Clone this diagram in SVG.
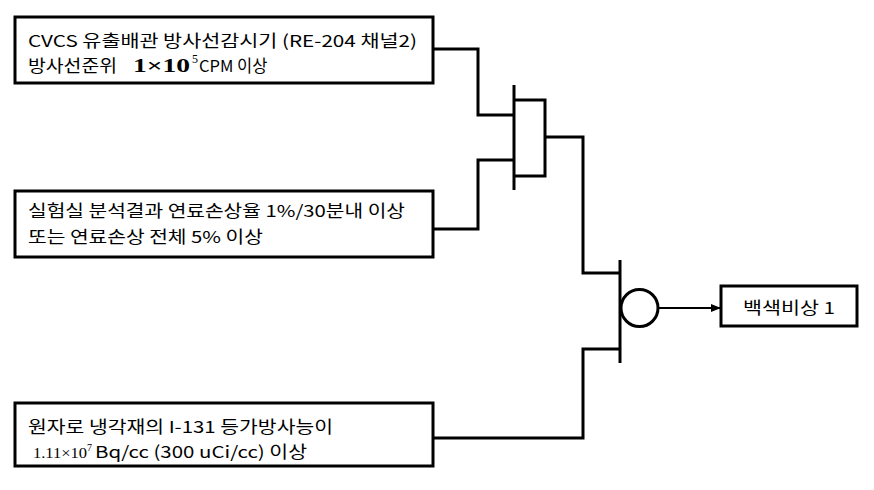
<svg xmlns="http://www.w3.org/2000/svg" width="874" height="490" viewBox="0 0 874 490">
<style>
.box{fill:#fff;stroke:#000;stroke-width:3}
.w{fill:none;stroke:#000;stroke-width:3}
.t{font-family:"Noto Sans CJK KR","Noto Sans",sans-serif;font-size:16.5px;fill:#000}
.s{font-family:"Liberation Serif",serif;fill:#000}
</style>
<defs>
<marker id="ah" markerWidth="10" markerHeight="8" refX="9" refY="4" orient="auto" markerUnits="userSpaceOnUse">
<path d="M0,0 L10,4 L0,8 Z" fill="#000"/>
</marker>
</defs>
<g id="connectors">
<polyline class="w" points="433,49 478,49 478,115 514,115"/>
<polyline class="w" points="433,229 478,229 478,160 514,160"/>
<line class="w" x1="514" y1="85" x2="514" y2="190"/>
<polyline class="w" points="514,100 545,100 545,176 514,176"/>
<polyline class="w" points="545,137 583,137 583,273 620,273"/>
<polyline class="w" points="433,438 583,438 583,349 620,349"/>
<line class="w" x1="620" y1="260" x2="620" y2="363"/>
<circle class="w" cx="639.5" cy="308" r="18.5"/>
<line x1="658" y1="308" x2="720" y2="308" stroke="#000" stroke-width="2" marker-end="url(#ah)"/>
</g>
<g id="n1">
<rect class="box" x="15" y="17" width="418" height="66"/>
<text class="t" x="28" y="47" textLength="389" lengthAdjust="spacingAndGlyphs">CVCS 유출배관 방사선감시기 (RE-204 채널2)</text>
<text class="t" x="28" y="72" textLength="89" lengthAdjust="spacingAndGlyphs">방사선준위</text>
<text class="s" x="133" y="72" font-size="19" font-weight="bold" textLength="57" lengthAdjust="spacingAndGlyphs">1×10</text>
<text class="s" x="192" y="63" font-size="12">5</text>
<text class="t" x="199" y="72">CPM 이상</text>
</g>
<g id="n2">
<rect class="box" x="15" y="191" width="418" height="66"/>
<text class="t" x="28" y="217" textLength="377" lengthAdjust="spacingAndGlyphs">실험실 분석결과 연료손상율 1%/30분내 이상</text>
<text class="t" x="28" y="243" textLength="235" lengthAdjust="spacingAndGlyphs">또는 연료손상 전체 5% 이상</text>
</g>
<g id="n3">
<rect class="box" x="15" y="403" width="418" height="63"/>
<text class="t" x="28" y="433" textLength="305" lengthAdjust="spacingAndGlyphs">원자로 냉각재의 I-131 등가방사능이</text>
<text class="s" x="33" y="458" font-size="14" textLength="54" lengthAdjust="spacingAndGlyphs">1.11×10</text>
<text class="s" x="87" y="451" font-size="10">7</text>
<text class="t" x="95" y="458" textLength="212" lengthAdjust="spacingAndGlyphs">Bq/cc (300 uCi/cc) 이상</text>
</g>
<g id="n4">
<rect class="box" x="721" y="286" width="136" height="40"/>
<text class="t" x="789" y="314" text-anchor="middle" textLength="92" lengthAdjust="spacingAndGlyphs">백색비상 1</text>
</g>
</svg>
